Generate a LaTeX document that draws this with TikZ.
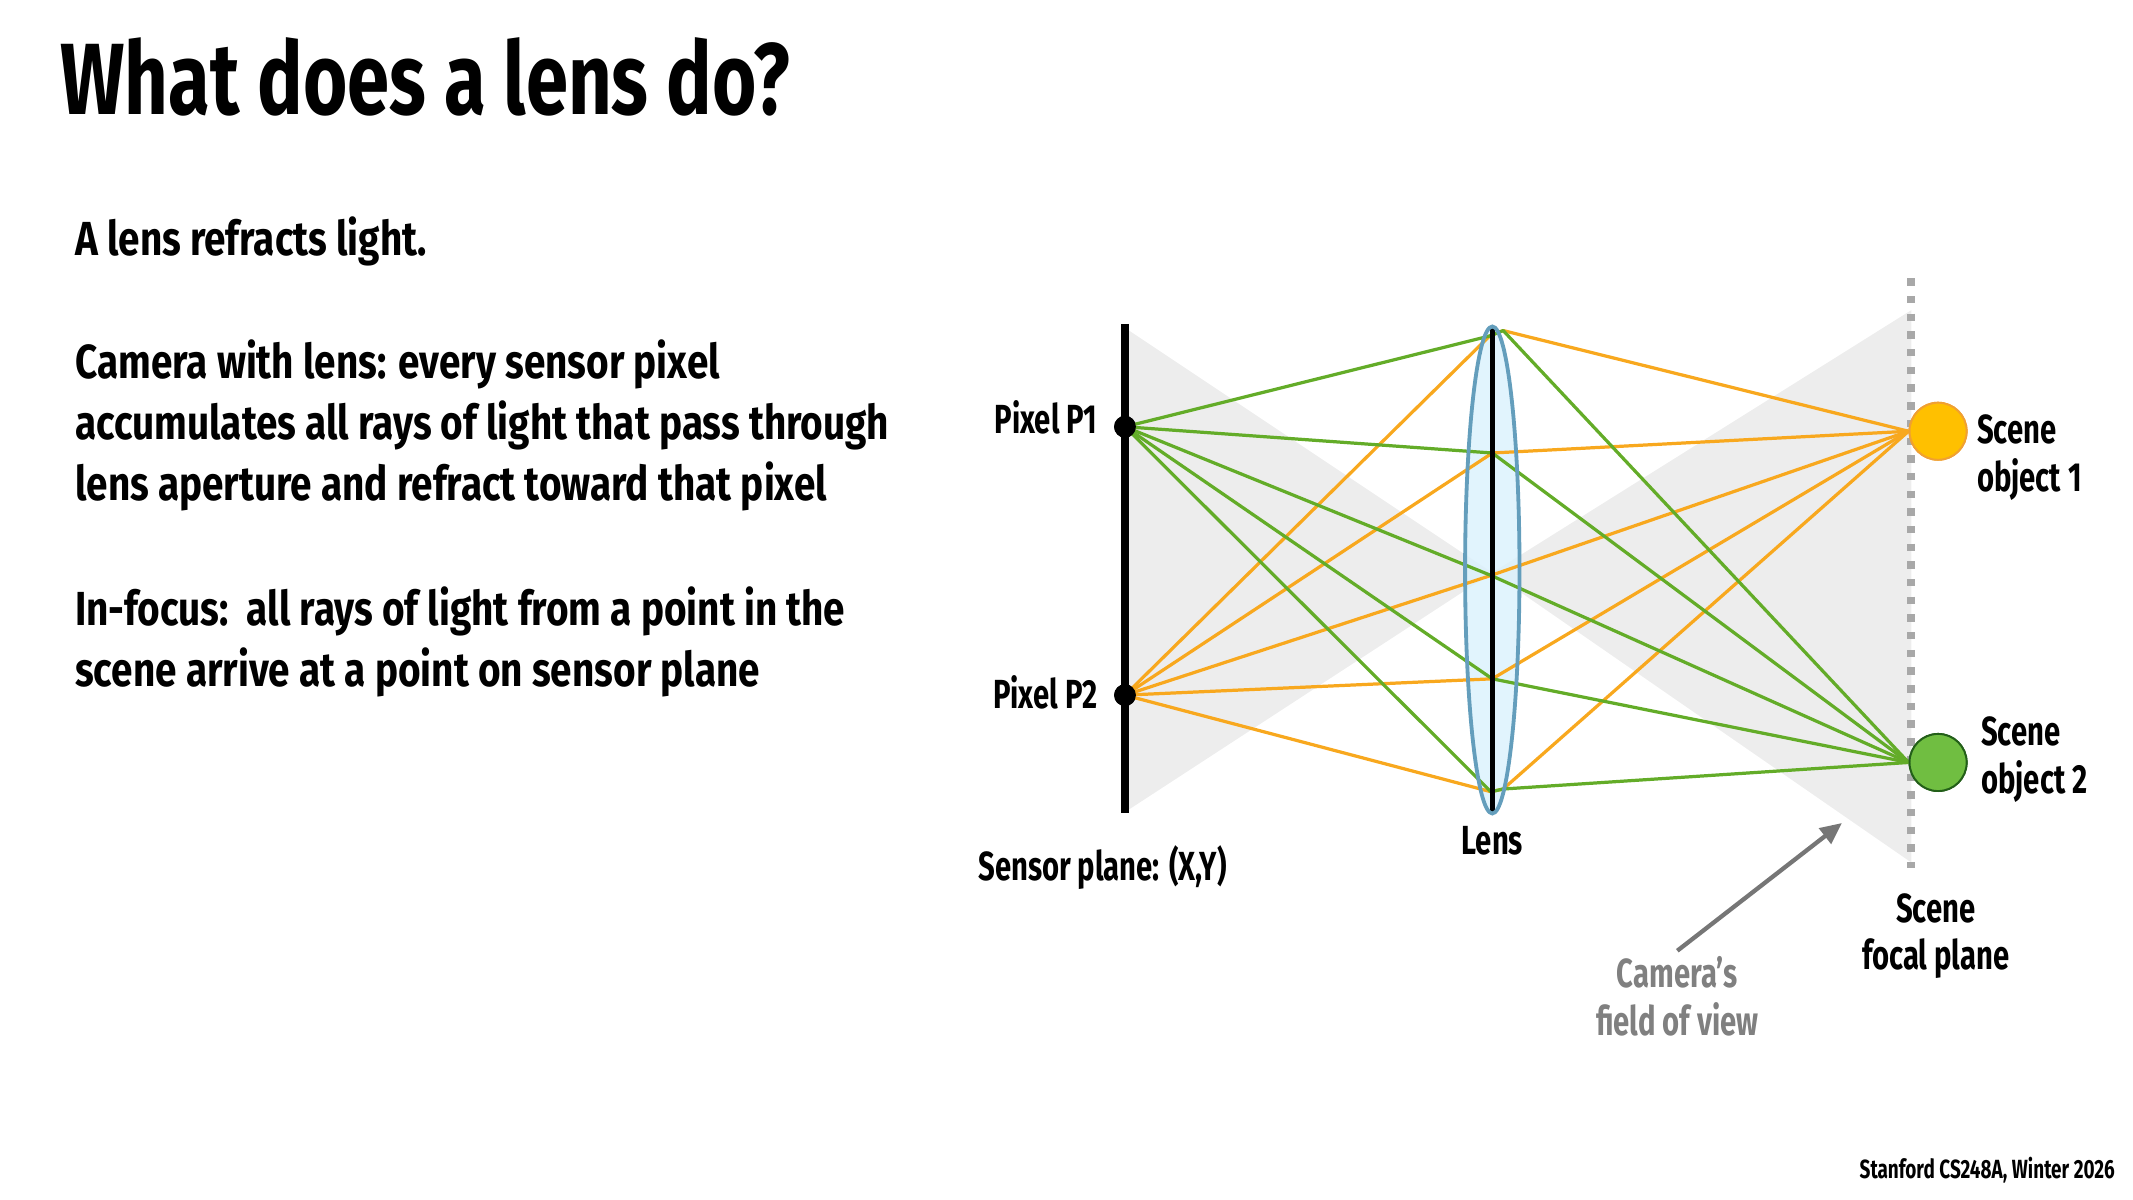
\documentclass[tikz,border=0pt]{standalone}
\usepackage{fontspec}
\usetikzlibrary{arrows.meta}
\newfontfamily\titlefont{Fira Sans Bold}[FakeStretch=0.75]
\newfontfamily\bodyfont{Fira Sans Bold}[FakeStretch=0.81]
\newfontfamily\labelfont{Fira Sans Bold}[FakeStretch=0.72]
\definecolor{raygreen}{RGB}{99,172,40}
\definecolor{rayorange}{RGB}{248,168,30}
\definecolor{fovgray}{RGB}{237,237,237}
\definecolor{lensfill}{RGB}{218,241,252}
\definecolor{lensedge}{RGB}{100,158,188}
\definecolor{planegray}{RGB}{168,168,168}
\definecolor{objone}{RGB}{255,192,0}
\definecolor{objoneedge}{RGB}{240,160,50}
\definecolor{objtwo}{RGB}{112,190,65}
\definecolor{objtwoedge}{RGB}{35,95,25}
\definecolor{capgray}{RGB}{128,128,128}
\definecolor{arrowgray}{RGB}{118,118,118}
\tikzset{
  txt/.style={inner sep=0pt, font=\labelfont\fontsize{17}{19.85}\selectfont},
  bodytxt/.style={inner sep=0pt, anchor=base west, align=left, font=\bodyfont\fontsize{20}{25.5}\selectfont},
  green ray/.style={line width=1.35pt, raygreen, line join=round},
  org ray/.style={line width=1.35pt, rayorange, line join=round},
  pixdot/.style={circle, fill=black, inner sep=0pt, minimum size=0.32cm},
  objcirc/.style={circle, line width=0.8pt, minimum size=0.84cm, inner sep=0pt},
}
\begin{document}
\begin{tikzpicture}[x=0.02cm,y=-0.02cm]
\useasboundingbox (0,0) rectangle (1568,882.1);
% title and text
\node[inner sep=0pt, anchor=base west, font=\titlefont\fontsize{42.4}{48}\selectfont] (title) at (44,84.5) {What does a lens do?};
\node[bodytxt] (t1) at (55,187.6) {A lens refracts light.};
\node[bodytxt] (t2) at (55,367.6) {Camera with lens: every sensor pixel\\accumulates all rays of light that pass through\\lens aperture and refract toward that pixel};
\node[bodytxt] (t3) at (55,504.6) {In-focus:\ \ all rays of light from a point in the\\scene arrive at a point on sensor plane};
\node[inner sep=0pt, anchor=base east, font=\labelfont\fontsize{11}{13}\selectfont] (foot) at (1555,866) {Stanford CS248A, Winter 2026};

% field of view
\coordinate (apex) at (1097,421);
\fill[fovgray] (830,243) -- (apex) -- (830,595) -- cycle;
\fill[fovgray] (1405,228) -- (apex) -- (1405,634) -- cycle;
% lens body
\fill[lensfill, fill opacity=0.8] (1097,419) ellipse [x radius=20, y radius=179];
% focal plane
\draw[planegray, line width=3.4pt, dash pattern=on 3.1pt off 4.3pt] (1405,204.6) -- (1405,638);

% nodes
\node[pixdot] (P1) at (827,313.7) {};
\node[pixdot] (P2) at (827,511) {};
\node[objcirc, fill=objone, draw=objoneedge] (O1) at (1424.7,317) {};
\node[objcirc, fill=objtwo, draw=objtwoedge] (O2) at (1424.7,560.5) {};

% lens points
\coordinate (L1i) at (1095,247);
\coordinate (L1o) at (1105,243);
\coordinate (L2) at (1097,333);
\coordinate (L3) at (1096,423);
\coordinate (L4) at (1097,499);
\coordinate (L5i) at (1096,582);
\coordinate (L5o) at (1105,580);

% orange rays: P2 -> lens -> object 1
\foreach \a/\b in {L1i/L1o, L2/L2, L3/L3, L4/L4, L5i/L5o}
  \draw[org ray] (P2.center) -- (\a) -- (\b) -- (O1.west);
% green rays: P1 -> lens -> object 2
\foreach \a/\b in {L1i/L1o, L2/L2, L3/L3, L4/L4, L5i/L5o}
  \draw[green ray] (P1.center) -- (\a) -- (\b) -- (O2.west);

% sensor and lens lines
\draw[line width=3.2pt] (827,238) -- (827,598);
\draw[line width=2pt] (1097,240) -- (1097,598);
\draw[lensedge, line width=1.6pt] (1097,419) ellipse [x radius=20, y radius=179];
\node[pixdot] at (P1) {};
\node[pixdot] at (P2) {};
\node[objcirc, fill=objone, draw=objoneedge] at (O1) {};
\node[objcirc, fill=objtwo, draw=objtwoedge] at (O2) {};

% labels
\node[txt, anchor=base east] (lp1) at (807,318.6) {Pixel P1};
\node[txt, anchor=base east] (lp2) at (807,521) {Pixel P2};
\node[txt, anchor=base] (lsensor) at (810.5,647) {Sensor plane: (X,Y)};
\node[txt, anchor=base] (llens) at (1097,628) {Lens};
\node[txt, anchor=base west, align=left] (lo1) at (1453,361) {Scene\\object 1};
\node[txt, anchor=base west, align=left] (lo2) at (1456,583) {Scene\\object 2};
\node[txt, anchor=base, align=center] (lfp) at (1423,713) {Scene\\focal plane};
\node[txt, anchor=base, align=center, text=capgray] (lfov) at (1233,761) {Camera’s\\field of view};
\coordinate (fovtip) at (1354,605);
\draw[arrowgray, line width=1.8pt, -{Triangle[length=9pt, width=8pt]}] ([yshift=0.08cm]lfov.north) -- (fovtip);
\end{tikzpicture}
\end{document}
